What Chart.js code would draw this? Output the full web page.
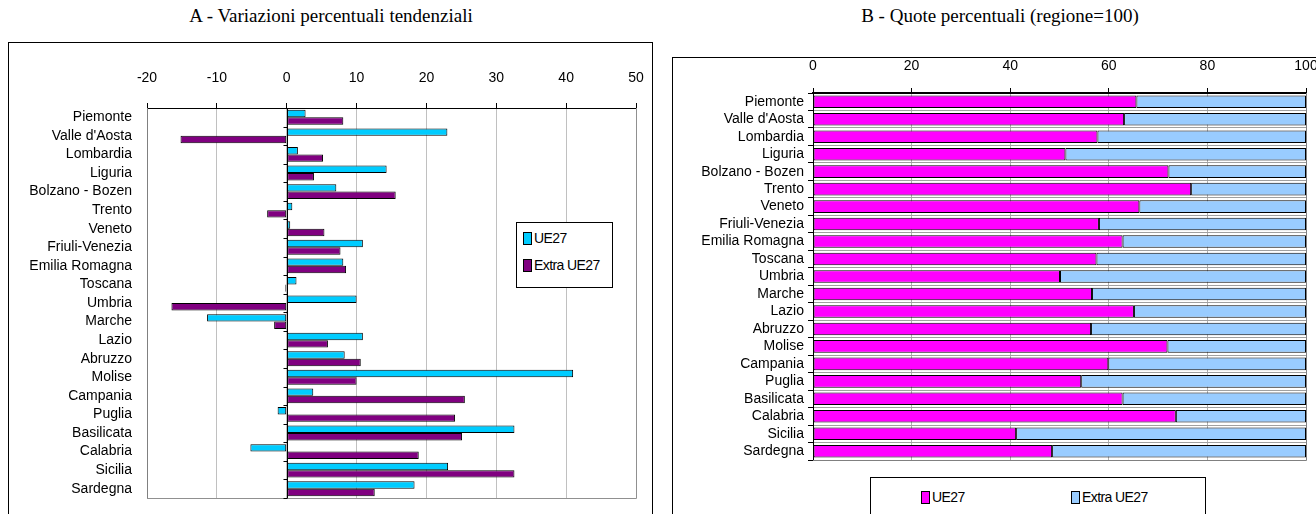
<!DOCTYPE html>
<html>
<head>
<meta charset="utf-8">
<script src="https://cdn.jsdelivr.net/npm/chart.js@4/dist/chart.umd.min.js"></script>
<style>
  body { margin: 0; width: 1316px; height: 514px; overflow: hidden; background: #fff; position: relative;
         font-family: 'Liberation Sans', Arial, sans-serif; }
  .title { position: absolute; top: 5px; transform: translateX(-50%); white-space: nowrap;
           font-family: 'Liberation Serif', 'Times New Roman', serif; font-size: 19px; color: #000; }
  .frame { position: absolute; border: 1px solid #000; box-sizing: border-box; }
  .wrap { position: absolute; }
  .legend { position: absolute; border: 1px solid #000; background: #fff; box-sizing: border-box; font-size: 14px; }
  .item { position: absolute; white-space: nowrap; line-height: 15px; letter-spacing: -0.6px; }
  .sw { display: inline-block; width: 7px; height: 11px; border: 1px solid #000; margin-right: 2px; vertical-align: -2px; }
</style>
</head>
<body>
<div class="title" style="left:331px">A - Variazioni percentuali tendenziali</div>
<div class="title" style="left:1000px">B - Quote percentuali (regione=100)</div>

<div class="frame" style="left:8px;top:42px;width:645px;height:490px"></div>
<div class="frame" style="left:672px;top:57px;width:660px;height:480px"></div>

<div class="wrap" style="left:8px;top:42px"><canvas id="chartA" width="644" height="472"></canvas></div>
<div class="wrap" style="left:673px;top:57px"><canvas id="chartB" width="643" height="457"></canvas></div>

<div class="legend" style="left:516px;top:222px;width:97px;height:66px">
  <div class="item" style="left:6px;top:8px"><span class="sw" style="background:#00CCFF"></span>UE27</div>
  <div class="item" style="left:6px;top:35px"><span class="sw" style="background:#800080"></span>Extra UE27</div>
</div>
<div class="legend" style="left:870px;top:477px;width:336px;height:50px">
  <div class="item" style="left:50px;top:12px"><span class="sw" style="background:#FF00FF"></span>UE27</div>
  <div class="item" style="left:200px;top:12px"><span class="sw" style="background:#99CCFF"></span>Extra UE27</div>
</div>

<script>
const regions = ['Piemonte', "Valle d'Aosta", 'Lombardia', 'Liguria', 'Bolzano - Bozen', 'Trento', 'Veneto',
  'Friuli-Venezia', 'Emilia Romagna', 'Toscana', 'Umbria', 'Marche', 'Lazio', 'Abruzzo', 'Molise',
  'Campania', 'Puglia', 'Basilicata', 'Calabria', 'Sicilia', 'Sardegna'];

// A - variazioni percentuali tendenziali
const varUE27 = [2.7, 23.0, 1.6, 14.3, 7.1, 0.8, 0.5, 10.9, 8.1, 1.4, 10.0, -11.4, 10.9, 8.3, 41.0,
  3.8, -1.3, 32.6, -5.2, 23.1, 18.3];
const varExtraUE27 = [8.1, -15.2, 5.2, 3.9, 15.6, -2.8, 5.4, 7.7, 8.5, -0.2, -16.5, -1.8, 5.9, 10.6, 10.0,
  25.5, 24.1, 25.1, 18.9, 32.6, 12.6];
const ticksA = [-20, -10, 0, 10, 20, 30, 40, 50];

// B - quote percentuali (regione=100)
const quotaUE27 = [65.6, 63.1, 57.7, 51.2, 72.1, 76.7, 66.2, 58.0, 62.8, 57.5, 50.1, 56.6, 65.1, 56.4,
  71.9, 59.9, 54.4, 62.8, 73.6, 41.2, 48.5];
const quotaExtraUE27 = [34.4, 36.9, 42.3, 48.8, 27.9, 23.3, 33.8, 42.0, 37.2, 42.5, 49.9, 43.4, 34.9, 43.6,
  28.1, 40.1, 45.6, 37.2, 26.4, 58.8, 51.5];
const ticksB = [0, 20, 40, 60, 80, 100];

const font = { family: "'Liberation Sans', Arial, sans-serif", size: 14 };

// bottom/right plot edges and small category ticks on the zero line
const plotEdges = {
  id: 'plotEdges',
  afterDraw(chart, args, opts) {
    const { ctx, chartArea: a, scales: { x, y } } = chart;
    ctx.save();
    ctx.lineWidth = 1;
    ctx.strokeStyle = opts.color || '#808080';
    ctx.beginPath();
    ctx.moveTo(a.left, a.bottom + 0.5);
    ctx.lineTo(a.right + 0.5, a.bottom + 0.5);
    ctx.lineTo(a.right + 0.5, a.top);
    ctx.stroke();
    if (opts.zeroTicks) {
      const x0 = Math.round(x.getPixelForValue(0)) + 0.5;
      const n = y.getLabels().length;
      ctx.strokeStyle = '#000';
      ctx.beginPath();
      ctx.moveTo(x0, a.top);
      ctx.lineTo(x0, a.bottom);
      for (let i = 0; i <= n; i++) {
        const yy = Math.round(y.getPixelForValue(i - 0.5)) + 0.5;
        ctx.moveTo(x0 - 4, yy);
        ctx.lineTo(x0, yy);
      }
      ctx.stroke();
    }
    ctx.restore();
  }
};

new Chart(document.getElementById('chartA'), {
  type: 'bar',
  data: {
    labels: regions,
    datasets: [
      { label: 'UE27', data: varUE27, backgroundColor: '#00CCFF', borderColor: '#000', borderWidth: 1, borderSkipped: false },
      { label: 'Extra UE27', data: varExtraUE27, backgroundColor: '#800080', borderColor: '#000', borderWidth: 1, borderSkipped: false }
    ]
  },
  options: {
    responsive: false,
    animation: false,
    indexAxis: 'y',
    categoryPercentage: 0.8,
    barPercentage: 1,
    layout: { padding: { left: 0, right: 16, top: 0, bottom: 16 } },
    plugins: { legend: { display: false }, tooltip: { enabled: false }, plotEdges: { color: '#909090', zeroTicks: true } },
    scales: {
      x: {
        position: 'top', min: ticksA[0], max: ticksA[ticksA.length - 1],
        afterBuildTicks: s => { s.ticks = ticksA.map(v => ({ value: v })); },
        ticks: { color: '#000', font, padding: 16 },
        grid: { color: '#c0c0c0', tickColor: '#000', tickLength: 5 },
        border: { color: '#000' },
        afterFit: s => { s.height = 66; s.paddingLeft = 0; s.paddingRight = 0; }
      },
      y: {
        ticks: { color: '#000', font, padding: 7, autoSkip: false },
        grid: { display: false },
        border: { color: '#808080' },
        afterFit: s => { s.width = 139; s.paddingTop = 0; s.paddingBottom = 0; }
      }
    }
  },
  plugins: [plotEdges]
});

new Chart(document.getElementById('chartB'), {
  type: 'bar',
  data: {
    labels: regions,
    datasets: [
      { label: 'UE27', data: quotaUE27, backgroundColor: '#FF00FF', borderColor: '#000', borderWidth: 1, borderSkipped: false },
      { label: 'Extra UE27', data: quotaExtraUE27, backgroundColor: '#99CCFF', borderColor: '#000', borderWidth: 1, borderSkipped: false }
    ]
  },
  options: {
    responsive: false,
    animation: false,
    indexAxis: 'y',
    categoryPercentage: 1,
    barPercentage: 0.72,
    layout: { padding: { left: 0, right: 10, top: 0, bottom: 54 } },
    plugins: { legend: { display: false }, tooltip: { enabled: false }, plotEdges: { color: '#808080' } },
    scales: {
      x: {
        position: 'top', stacked: true, min: ticksB[0], max: ticksB[ticksB.length - 1],
        afterBuildTicks: s => { s.ticks = ticksB.map(v => ({ value: v })); },
        ticks: { color: '#000', font, padding: 13 },
        grid: { color: '#b0b0b0', tickColor: '#000', tickLength: 5 },
        border: { color: '#000', width: 2 },
        afterFit: s => { s.height = 36; s.paddingLeft = 0; s.paddingRight = 0; }
      },
      y: {
        stacked: true,
        ticks: { color: '#000', font, padding: 4, autoSkip: false },
        grid: { offset: true, color: '#a0a0a0', tickColor: '#000', tickLength: 5 },
        border: { color: '#000' },
        afterFit: s => { s.width = 140; s.paddingTop = 0; s.paddingBottom = 0; }
      }
    }
  },
  plugins: [plotEdges]
});
</script>
</body>
</html>
